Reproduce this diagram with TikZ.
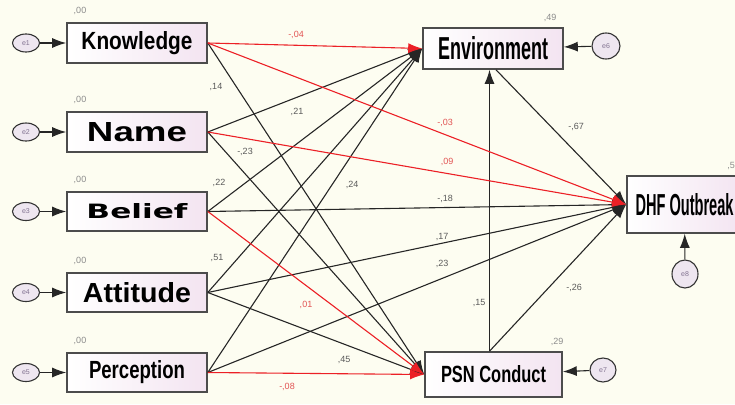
\documentclass[tikz,border=0pt]{standalone}
\usepackage{fontspec}
\setmainfont{Liberation Sans}
\newfontfamily\heavyfont{DejaVu Sans}
\usepackage{graphicx}
\usetikzlibrary{arrows.meta}
\usetikzlibrary{shapes.geometric}

\definecolor{paper}{RGB}{253,253,241}
\definecolor{boxpink}{RGB}{243,228,241}
\definecolor{pathred}{RGB}{236,32,38}
\definecolor{coefred}{RGB}{226,84,84}
\definecolor{coefgray}{RGB}{90,90,90}
\definecolor{errfill}{RGB}{238,230,240}
\definecolor{errtext}{RGB}{130,115,145}

% stretched bold label of a box: width, height, text
\newcommand{\obstext}[3]{\resizebox{#1pt}{#2pt}{\bfseries #3}}

\begin{document}
\begin{tikzpicture}[x=1pt,y=-1pt,
    obs/.style={draw=black!70, line width=1.6pt, left color=white, right color=boxpink, inner sep=0pt},
    err/.style={ellipse, draw=black!80, line width=1.1pt, fill=errfill, inner sep=0pt,
        font=\fontsize{7}{7}\selectfont, text=errtext},
    path/.style={line width=1.1pt, black!85, -{Latex[length=14pt,width=10pt]}},
    redpath/.style={path, pathred},
    coef/.style={font=\fontsize{9}{10}\selectfont, text=coefgray, inner sep=0pt}]

    % Background
    \fill[paper] (0,0) rectangle (735,404);
    \useasboundingbox (0,0) rectangle (735,404);

    % Exogenous variables
    \node[obs, minimum width=140pt, minimum height=40pt] (know) at (137,43)    {\obstext{111}{18}{Knowledge}};
    \node[obs, minimum width=140pt, minimum height=40pt] (name) at (137,132)   {\obstext{100}{19}{Name}};
    \node[obs, minimum width=140pt, minimum height=39pt] (beli) at (137,211.5) {\obstext{101}{15}{\heavyfont Belief}};
    \node[obs, minimum width=140pt, minimum height=39pt] (atti) at (137,292.5) {\obstext{108}{20}{Attitude}};
    \node[obs, minimum width=140pt, minimum height=39pt] (perc) at (137,372.5) {\obstext{96}{18}{Perception}};

    % Endogenous variables
    \node[obs, minimum width=140pt, minimum height=41pt] (envi) at (493,48.5)    {\obstext{110}{23}{Environment}};
    \node[obs, minimum width=137pt, minimum height=45pt] (psnc) at (493.5,374.5) {\obstext{105}{17}{PSN Conduct}};
    \node[obs, minimum width=115pt, minimum height=57pt] (dhfo) at (684.5,204.5) {\obstext{98}{22}{DHF Outbreak}};

    % Error terms
    \foreach \e/\v in {1/know,2/name,3/beli,4/atti,5/perc} {
        \node[err, minimum width=27pt, minimum height=18pt] (e\e) at (26,0 |- \v) {e\e};
        \draw[path] (e\e) -- (\v);
        \node[coef, text=black!45] (r\e) at ([xshift=-57pt,yshift=11pt]\v.north) {,00};
    }
    \node[err, minimum width=28pt, minimum height=26pt] (e6) at (606,46)  {e6};
    \node[err, minimum width=26pt, minimum height=24pt] (e7) at (603,370) {e7};
    \node[err, minimum width=26pt, minimum height=28pt] (e8) at (685,274) {e8};
    \draw[path] (e6) -- (envi);
    \draw[path] (e7) -- (psnc);
    \draw[path] (e8) -- (dhfo);

    % Paths into Environment
    \foreach \v in {name,beli,atti,perc}
        \draw[path] (\v.east) -- (envi.west);

    % Paths into PSN Conduct
    \foreach \v in {know,name,atti}
        \draw[path] (\v.east) -- (psnc.west);

    % Paths into DHF Outbreak
    \foreach \v in {beli,atti,perc}
        \draw[path] (\v.east) -- (dhfo.west);
    \draw[path] ([xshift=3pt]envi.south) -- (dhfo.west);
    \draw[path] ([xshift=-4pt]psnc.north) -- (dhfo.west);
    \draw[path] ([xshift=-4pt]psnc.north) -- ([xshift=-3.5pt]envi.south);

    % Red paths on top
    \draw[redpath] (know.east) -- (envi.west);
    \draw[redpath] (know.east) -- (dhfo.west);
    \draw[redpath] (name.east) -- (dhfo.west);
    \draw[redpath] (beli.east) -- (psnc.west);
    \draw[redpath] (perc.east) -- (psnc.west);

    % Coefficients
    \foreach \x/\y/\t [count=\i] in {216/87/{,14}, 297/112/{,21}, 245/152/{-,23}, 219/183/{,22},
        352/185/{,24}, 445/199/{-,18}, 442/237/{,17}, 442/264/{,23}, 217/258/{,51},
        344/360/{,45}, 479/303/{,15}, 574/288/{-,26}, 576/127/{-,67}}
        \node[coef] (c\i) at (\x,\y) {\t};
    \foreach \x/\y/\t [count=\i] in {296/35/{-,04}, 445/123/{-,03}, 447/162/{,09},
        306/305/{,01}, 287/387/{-,08}}
        \node[coef, text=coefred] (d\i) at (\x,\y) {\t};

    % Squared multiple correlations
    \node[coef, text=black!45] (r6) at (550,18)  {,49};
    \node[coef, text=black!45] (r7) at (557,342) {,29};
    \node[coef, text=black!45] (r8) at (731,166) {,5};

\end{tikzpicture}
\end{document}
